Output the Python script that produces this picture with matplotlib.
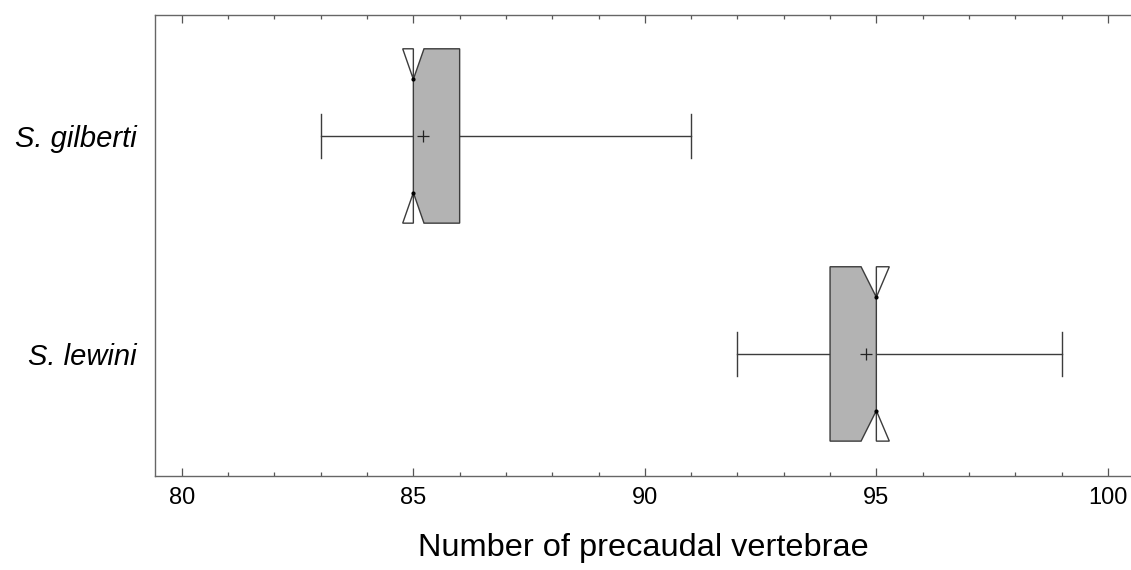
import matplotlib
matplotlib.use("Agg")
from matplotlib import pyplot as plt
from matplotlib.patches import Polygon, Rectangle

# box stats (precaudal vertebrae counts)
species = ["S. gilberti", "S. lewini"]
q1 = [85, 94]
median = [85, 95]
q3 = [86, 95]
whisker_lo = [83, 92]
whisker_hi = [91, 99]
means = [85.2, 94.77]
notch_lo = [84.77, 94.67]
notch_hi = [85.23, 95.28]

plt.rcParams["font.family"] = ["Liberation Sans", "DejaVu Sans"]

fig = plt.figure(figsize=(11.31, 5.70), dpi=100)
ax = fig.add_axes([155 / 1131, 94 / 570, 1 - 155 / 1131, 461 / 570])

half = 0.40   # half height of box
depth = 0.14  # notch depth
cap = 0.10    # half height of whisker caps
edge = "#3c3c3c"

for i in range(len(species)):
    y = i
    top, bot = y - half, y + half
    outline = [(q1[i], top), (notch_lo[i], top), (median[i], top + depth),
               (notch_hi[i], top), (q3[i], top), (q3[i], bot),
               (notch_hi[i], bot), (median[i], bot - depth),
               (notch_lo[i], bot), (q1[i], bot)]
    # grey fill only inside the box, notch lobes outside stay white
    fill = Polygon(outline, closed=True, facecolor="#b3b3b3", edgecolor="none", zorder=2)
    ax.add_patch(fill)
    clip = Rectangle((q1[i], top), q3[i] - q1[i], 2 * half, transform=ax.transData)
    fill.set_clip_path(clip)
    ax.add_patch(Polygon(outline, closed=True, facecolor="none", edgecolor=edge,
                         lw=1.0, zorder=3))
    # whiskers and caps
    ax.plot([whisker_lo[i], q1[i]], [y, y], color=edge, lw=1.0, zorder=1)
    ax.plot([q3[i], whisker_hi[i]], [y, y], color=edge, lw=1.0, zorder=1)
    ax.plot([whisker_lo[i], whisker_lo[i]], [y - cap, y + cap], color=edge, lw=1.0)
    ax.plot([whisker_hi[i], whisker_hi[i]], [y - cap, y + cap], color=edge, lw=1.0)
    # median dots at notch and mean marker
    ax.plot([median[i], median[i]], [top + depth, bot - depth], ls="none",
            marker="o", ms=2, color="black", zorder=4)
    ax.plot(means[i], y, marker="+", ms=8, mew=0.9, color="#222222", zorder=4)

ax.set_xlim(79.42, 100.5)
ax.set_ylim(1.56, -0.555)
ax.set_xticks([80, 85, 90, 95, 100])
ax.set_xticks(range(80, 101), minor=True)
ax.set_yticks(range(len(species)))
ax.set_yticklabels(species, fontsize=21, style="italic")
ax.tick_params(axis="y", length=0, pad=13)
ax.tick_params(axis="x", which="major", direction="in", length=6, width=0.9,
               top=True, labelsize=17, pad=8, color="#555555")
ax.tick_params(axis="x", which="minor", direction="in", length=3, width=0.9,
               top=True, color="#555555")
ax.spines["right"].set_visible(False)
for s in ["left", "top", "bottom"]:
    ax.spines[s].set_color("#666666")
    ax.spines[s].set_linewidth(1.0)
ax.set_xlabel("Number of precaudal vertebrae", fontsize=23.4, labelpad=17)

fig.savefig("out.png", dpi=100)
